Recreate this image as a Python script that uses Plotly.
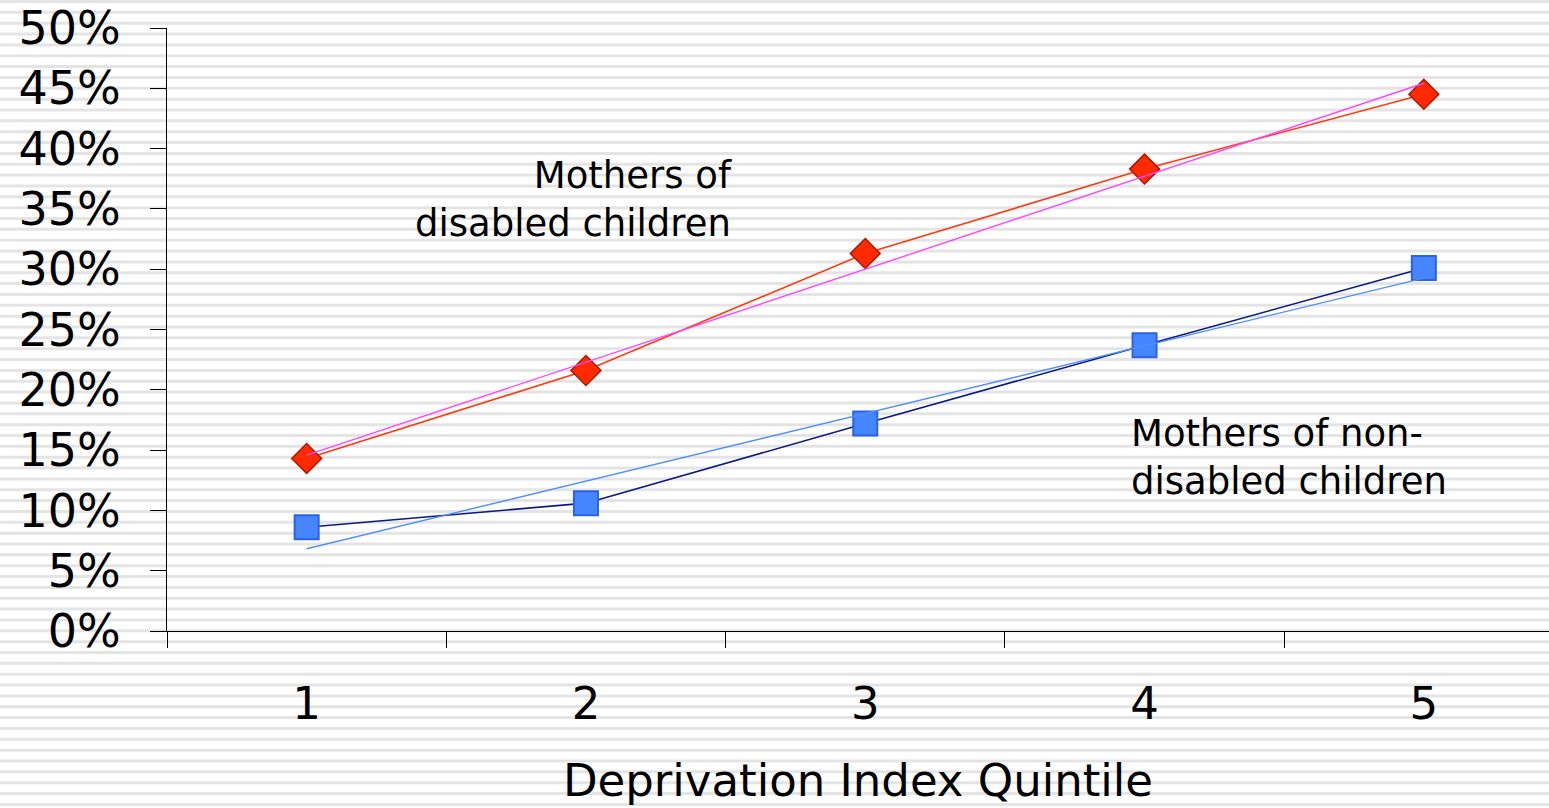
import numpy as np
import plotly.graph_objects as go

quintiles = [1, 2, 3, 4, 5]
tick_labels = ["1", "2", "3", "4", "5"]
disabled = [0.143, 0.216, 0.313, 0.383, 0.445]
non_disabled = [0.086, 0.106, 0.172, 0.237, 0.301]

W, H = 1549, 808
ML, MR, MT, MB = 167, 0, 28, 177
PW, PH = W - ML - MR, H - MT - MB

font_family = "DejaVu Sans"

def trend(xs, ys):
    k, b = np.polyfit(xs, ys, 1)
    return [k * x + b for x in xs]

fig = go.Figure()

fig.add_trace(go.Scatter(
    x=quintiles, y=disabled, mode="lines+markers",
    line=dict(color="#ff3a10", width=1.6),
    marker=dict(symbol="diamond", size=23, color="#ff2a00",
                line=dict(color="#a81a00", width=1.5)),
    showlegend=False, hoverinfo="skip"))
fig.add_trace(go.Scatter(
    x=quintiles, y=non_disabled, mode="lines+markers",
    line=dict(color="#0a1a80", width=1.6),
    marker=dict(symbol="square", size=24, color="#4586ff",
                line=dict(color="#2a62e8", width=2)),
    showlegend=False, hoverinfo="skip"))
td = trend(quintiles, disabled)
tn = trend(quintiles, non_disabled)
fig.add_trace(go.Scatter(
    x=[quintiles[0], quintiles[-1]], y=[td[0], td[-1]],
    mode="lines", line=dict(color="#ff44ff", width=1.4),
    showlegend=False, hoverinfo="skip"))
fig.add_trace(go.Scatter(
    x=[quintiles[0], quintiles[-1]], y=[tn[0], tn[-1]],
    mode="lines", line=dict(color="#4f8fff", width=1.4),
    showlegend=False, hoverinfo="skip"))

# striped slide background
shapes = []
period, thick = 10.85, 3.0
k = 0
while True:
    yc = 1.5 + k * period
    if yc - thick / 2 > H:
        break
    y0 = (H - MB - (yc + thick / 2)) / PH
    y1 = (H - MB - (yc - thick / 2)) / PH
    shapes.append(dict(type="rect", xref="paper", yref="paper",
                       x0=-ML / PW, x1=1.0, y0=y0, y1=y1,
                       fillcolor="#e4e4e4", line=dict(width=0), layer="below"))
    k += 1

x_hi = 0.5 + PW / 279.3

fig.update_layout(
    width=W, height=H,
    margin=dict(l=ML, r=MR, t=MT, b=MB, pad=0),
    paper_bgcolor="white", plot_bgcolor="rgba(0,0,0,0)",
    shapes=shapes,
    font=dict(family=font_family, color="black"),
    xaxis=dict(
        range=[0.5, x_hi], tickvals=quintiles, ticktext=tick_labels,
        ticks="", showgrid=False, zeroline=False,
        showline=True, linecolor="black", linewidth=1.3,
        tickfont=dict(size=45, family=font_family),
        ticklabelstandoff=33,
        minor=dict(tickvals=[0.5, 1.5, 2.5, 3.5, 4.5, 5.5], ticks="outside",
                   ticklen=16, tickcolor="black", tickwidth=1.3, showgrid=False),
        title=dict(text="Deprivation Index Quintile", font=dict(size=45, family=font_family), standoff=35),
    ),
    yaxis=dict(
        range=[0, 0.5], dtick=0.05, tickformat=".0%",
        ticks="outside", ticklen=16, tickcolor="black", tickwidth=1.3,
        showgrid=False, zeroline=False,
        showline=True, linecolor="black", linewidth=1.3,
        tickfont=dict(size=46, family=font_family),
        ticklabelstandoff=20,
    ),
    annotations=[
        dict(x=2.53, y=0.358, xref="x", yref="y", xanchor="right", yanchor="middle",
             align="right", showarrow=False,
             text="Mothers of<br>disabled children", font=dict(size=37, family=font_family)),
        dict(x=3.945, y=0.144, xref="x", yref="y", xanchor="left", yanchor="middle",
             align="left", showarrow=False,
             text="Mothers of non-<br>disabled children", font=dict(size=37, family=font_family)),
    ],
)

fig.write_html(
    "out.html",
    config={"displayModeBar": False},
    post_script="document.body.style.margin='0';document.body.style.overflow='hidden';",
)
